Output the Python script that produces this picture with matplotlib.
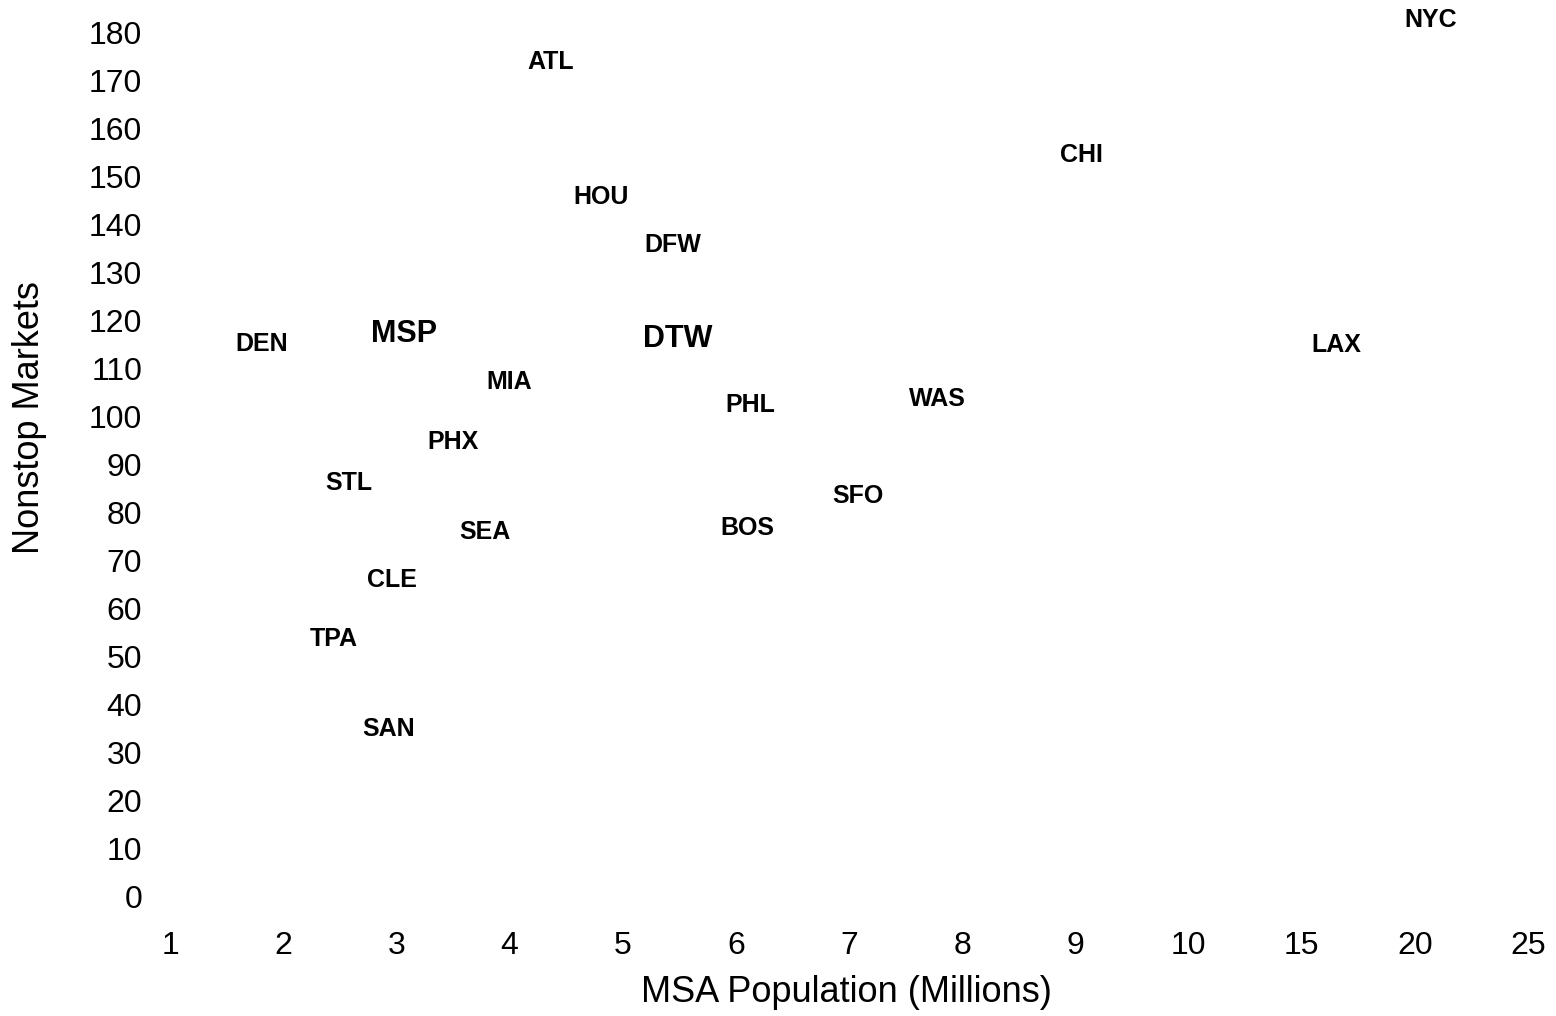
import numpy as np
import matplotlib
matplotlib.use("Agg")
import matplotlib.pyplot as plt

plt.rcParams["font.family"] = ["Liberation Sans", "DejaVu Sans"]

# MSA population (millions) vs nonstop markets, one label per hub
codes = ["NYC", "ATL", "CHI", "HOU", "DFW", "DEN", "MSP", "DTW", "LAX", "MIA",
         "PHL", "WAS", "PHX", "STL", "SFO", "SEA", "BOS", "CLE", "TPA", "SAN"]
population = [20.7, 4.36, 9.05, 4.81, 5.44, 1.81, 3.07, 5.49, 16.55, 4.0,
              6.13, 7.78, 3.5, 2.58, 7.08, 3.78, 6.1, 2.96, 2.45, 2.93]
markets = [183.3, 174.5, 155.1, 146.3, 136.3, 115.7, 118.0, 116.9, 115.4, 107.7,
           102.9, 104.2, 95.2, 86.6, 83.9, 76.4, 77.2, 66.4, 54.1, 35.3]
highlight = ["MSP", "DTW"]

x_ticks = [1, 2, 3, 4, 5, 6, 7, 8, 9, 10, 15, 20, 25]
y_ticks = list(range(0, 181, 10))


# axis is linear 1..10, then compressed 10..25 (5 per step)
def fwd(v):
    v = np.asarray(v, dtype=float)
    return np.where(v <= 10, v - 1, 9 + (v - 10) / 5.0)


def inv(u):
    u = np.asarray(u, dtype=float)
    return np.where(u <= 9, u + 1, 10 + (u - 9) * 5.0)


fig = plt.figure(figsize=(15.56, 10.16), dpi=100)
ax = fig.add_axes([170 / 1556, 120 / 1016, (1528 - 170) / 1556, (896 - 33) / 1016])
ax.set_xscale("function", functions=(fwd, inv))
ax.set_xlim(1, 25)
ax.set_ylim(0, 180)

for code, x, y in zip(codes, population, markets):
    big = code in highlight
    ax.text(x, y, code, ha="center", va="center_baseline", fontweight="bold",
            fontsize=22 if big else 18, color="black")

ax.set_xticks(x_ticks)
ax.set_xticklabels([str(t) for t in x_ticks])
ax.set_yticks(y_ticks)
ax.set_yticklabels([str(t) for t in y_ticks])
ax.tick_params(axis="both", length=0, labelsize=23)
ax.tick_params(axis="x", pad=25)
ax.tick_params(axis="y", pad=20)
ax.xaxis.set_minor_locator(matplotlib.ticker.NullLocator())
for s in ax.spines.values():
    s.set_visible(False)

fig.text(846 / 1556, 1 - 993 / 1016, "MSA Population (Millions)", ha="center", va="center",
         fontsize=26)
fig.text(30 / 1556, 1 - 418 / 1016, "Nonstop Markets", ha="center", va="center",
         fontsize=26, rotation=90)

fig.savefig("out.png", dpi=100)
